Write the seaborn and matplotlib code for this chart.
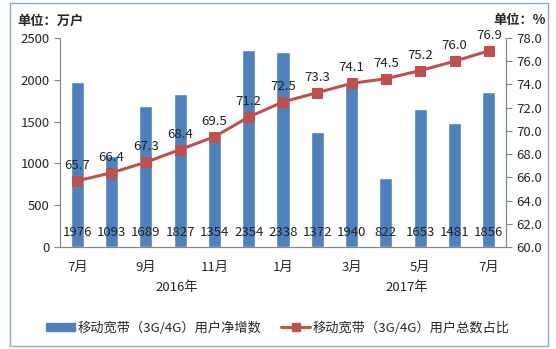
import matplotlib
matplotlib.use("Agg")
import matplotlib.pyplot as plt
import matplotlib.transforms as mtransforms
from matplotlib.patches import Rectangle
from matplotlib.lines import Line2D
from matplotlib.patches import Patch
import numpy as np
import pandas as pd
import seaborn as sns

months = ["7月", "8月", "9月", "10月", "11月", "12月", "1月", "2月", "3月", "4月", "5月", "6月", "7月"]
tick_labels = ["7月", "", "9月", "", "11月", "", "1月", "", "3月", "", "5月", "", "7月"]
years = ["2016年", "2017年"]
net_adds = [1976, 1093, 1689, 1827, 1354, 2354, 2338, 1372, 1940, 822, 1653, 1481, 1856]
share = [65.7, 66.4, 67.3, 68.4, 69.5, 71.2, 72.5, 73.3, 74.1, 74.5, 75.2, 76.0, 76.9]
bar_name = "移动宽带（3G/4G）用户净增数"
line_name = "移动宽带（3G/4G）用户总数占比"

sns.set_style("white")
plt.rcParams['font.family'] = ['Noto Sans CJK SC', 'DejaVu Sans']

BAR = "#4F81BD"
LINE = "#C0504D"
AXC = "#868686"
FS = 9.5

df = pd.DataFrame({"pos": np.arange(len(months)), "net": net_adds, "share": share})

fig = plt.figure(figsize=(5.56, 3.49), dpi=100)
ax = fig.add_axes([0.108, 0.292, 0.802, 0.599])
sns.barplot(data=df, x="pos", y="net", color=BAR, width=0.38, ax=ax, saturation=1)
ax.set_ylim(0, 2500)
ax.set_xlim(-0.5, len(months) - 0.5)
ax.set_yticks(np.arange(0, 2501, 500))
ax.set_xlabel("")
ax.set_ylabel("")

ax2 = ax.twinx()
sns.lineplot(data=df, x="pos", y="share", color=LINE, lw=2.2, marker="s", markersize=7,
             markeredgecolor=LINE, ax=ax2)
ax2.set_ylim(60, 78)
ax2.set_yticks(np.arange(60, 78.1, 2))
ax2.set_yticklabels([f"{v:.1f}" for v in np.arange(60, 78.1, 2)])
ax2.set_xlabel("")
ax2.set_ylabel("")
ax2.set_xlim(-0.5, len(months) - 0.5)

# x ticks: labels at centres, tick marks at boundaries
ax.set_xticks(np.arange(len(months)))
ax.set_xticklabels(tick_labels, fontsize=FS)
ax.set_xticks(np.arange(-0.5, len(months), 1), minor=True)
ax.tick_params(axis="x", which="major", length=0, pad=10)
ax.tick_params(axis="x", which="minor", length=4, color=AXC, direction="out")
ax.tick_params(axis="y", length=4, color=AXC, direction="out", labelsize=FS, left=True)
ax2.tick_params(axis="y", length=4, color=AXC, direction="out", labelsize=FS, right=True)

for a in (ax, ax2):
    a.spines["top"].set_visible(False)
    for s in ["left", "right", "bottom"]:
        a.spines[s].set_color(AXC)
        a.spines[s].set_linewidth(0.8)

# bar value labels near bottom
trans = mtransforms.blended_transform_factory(ax.transData, ax.transAxes)
for p, v in zip(df["pos"], net_adds):
    ax.text(p, 0.068, f"{v}", transform=trans, ha="center", va="center", fontsize=FS, color="#222222")

# line labels
for p, v in zip(df["pos"], share):
    ax2.annotate(f"{v:.1f}", (p, v), xytext=(0, 6.5), textcoords="offset points",
                 ha="center", va="bottom", fontsize=FS, color="#222222")

# unit labels
fig.text(0.032, 0.942, "单位：万户", fontsize=FS, fontweight="bold", ha="left", va="center")
fig.text(0.982, 0.942, "单位：%", fontsize=FS, fontweight="bold", ha="right", va="center")

# year labels
fig.text(177 / 556, 1 - 288 / 349, years[0], fontsize=FS, ha="center", va="center")
fig.text(407 / 556, 1 - 288 / 349, years[1], fontsize=FS, ha="center", va="center")

handles = [Patch(facecolor=BAR, edgecolor=BAR),
           Line2D([0], [0], color=LINE, lw=2.2, marker="s", markersize=6)]
fig.legend(handles, [bar_name, line_name], loc="center", bbox_to_anchor=(0.5, 1 - 328 / 349),
           ncol=2, frameon=False, fontsize=FS, handlelength=2.2, handleheight=0.6,
           columnspacing=1.5, handletextpad=0.2)

fig.add_artist(Rectangle((10 / 556, 1 - 346 / 349), 538 / 556, 343 / 349, transform=fig.transFigure,
                         fill=False, edgecolor="#8EA9C8", lw=1))

fig.savefig("out.png", dpi=100)
